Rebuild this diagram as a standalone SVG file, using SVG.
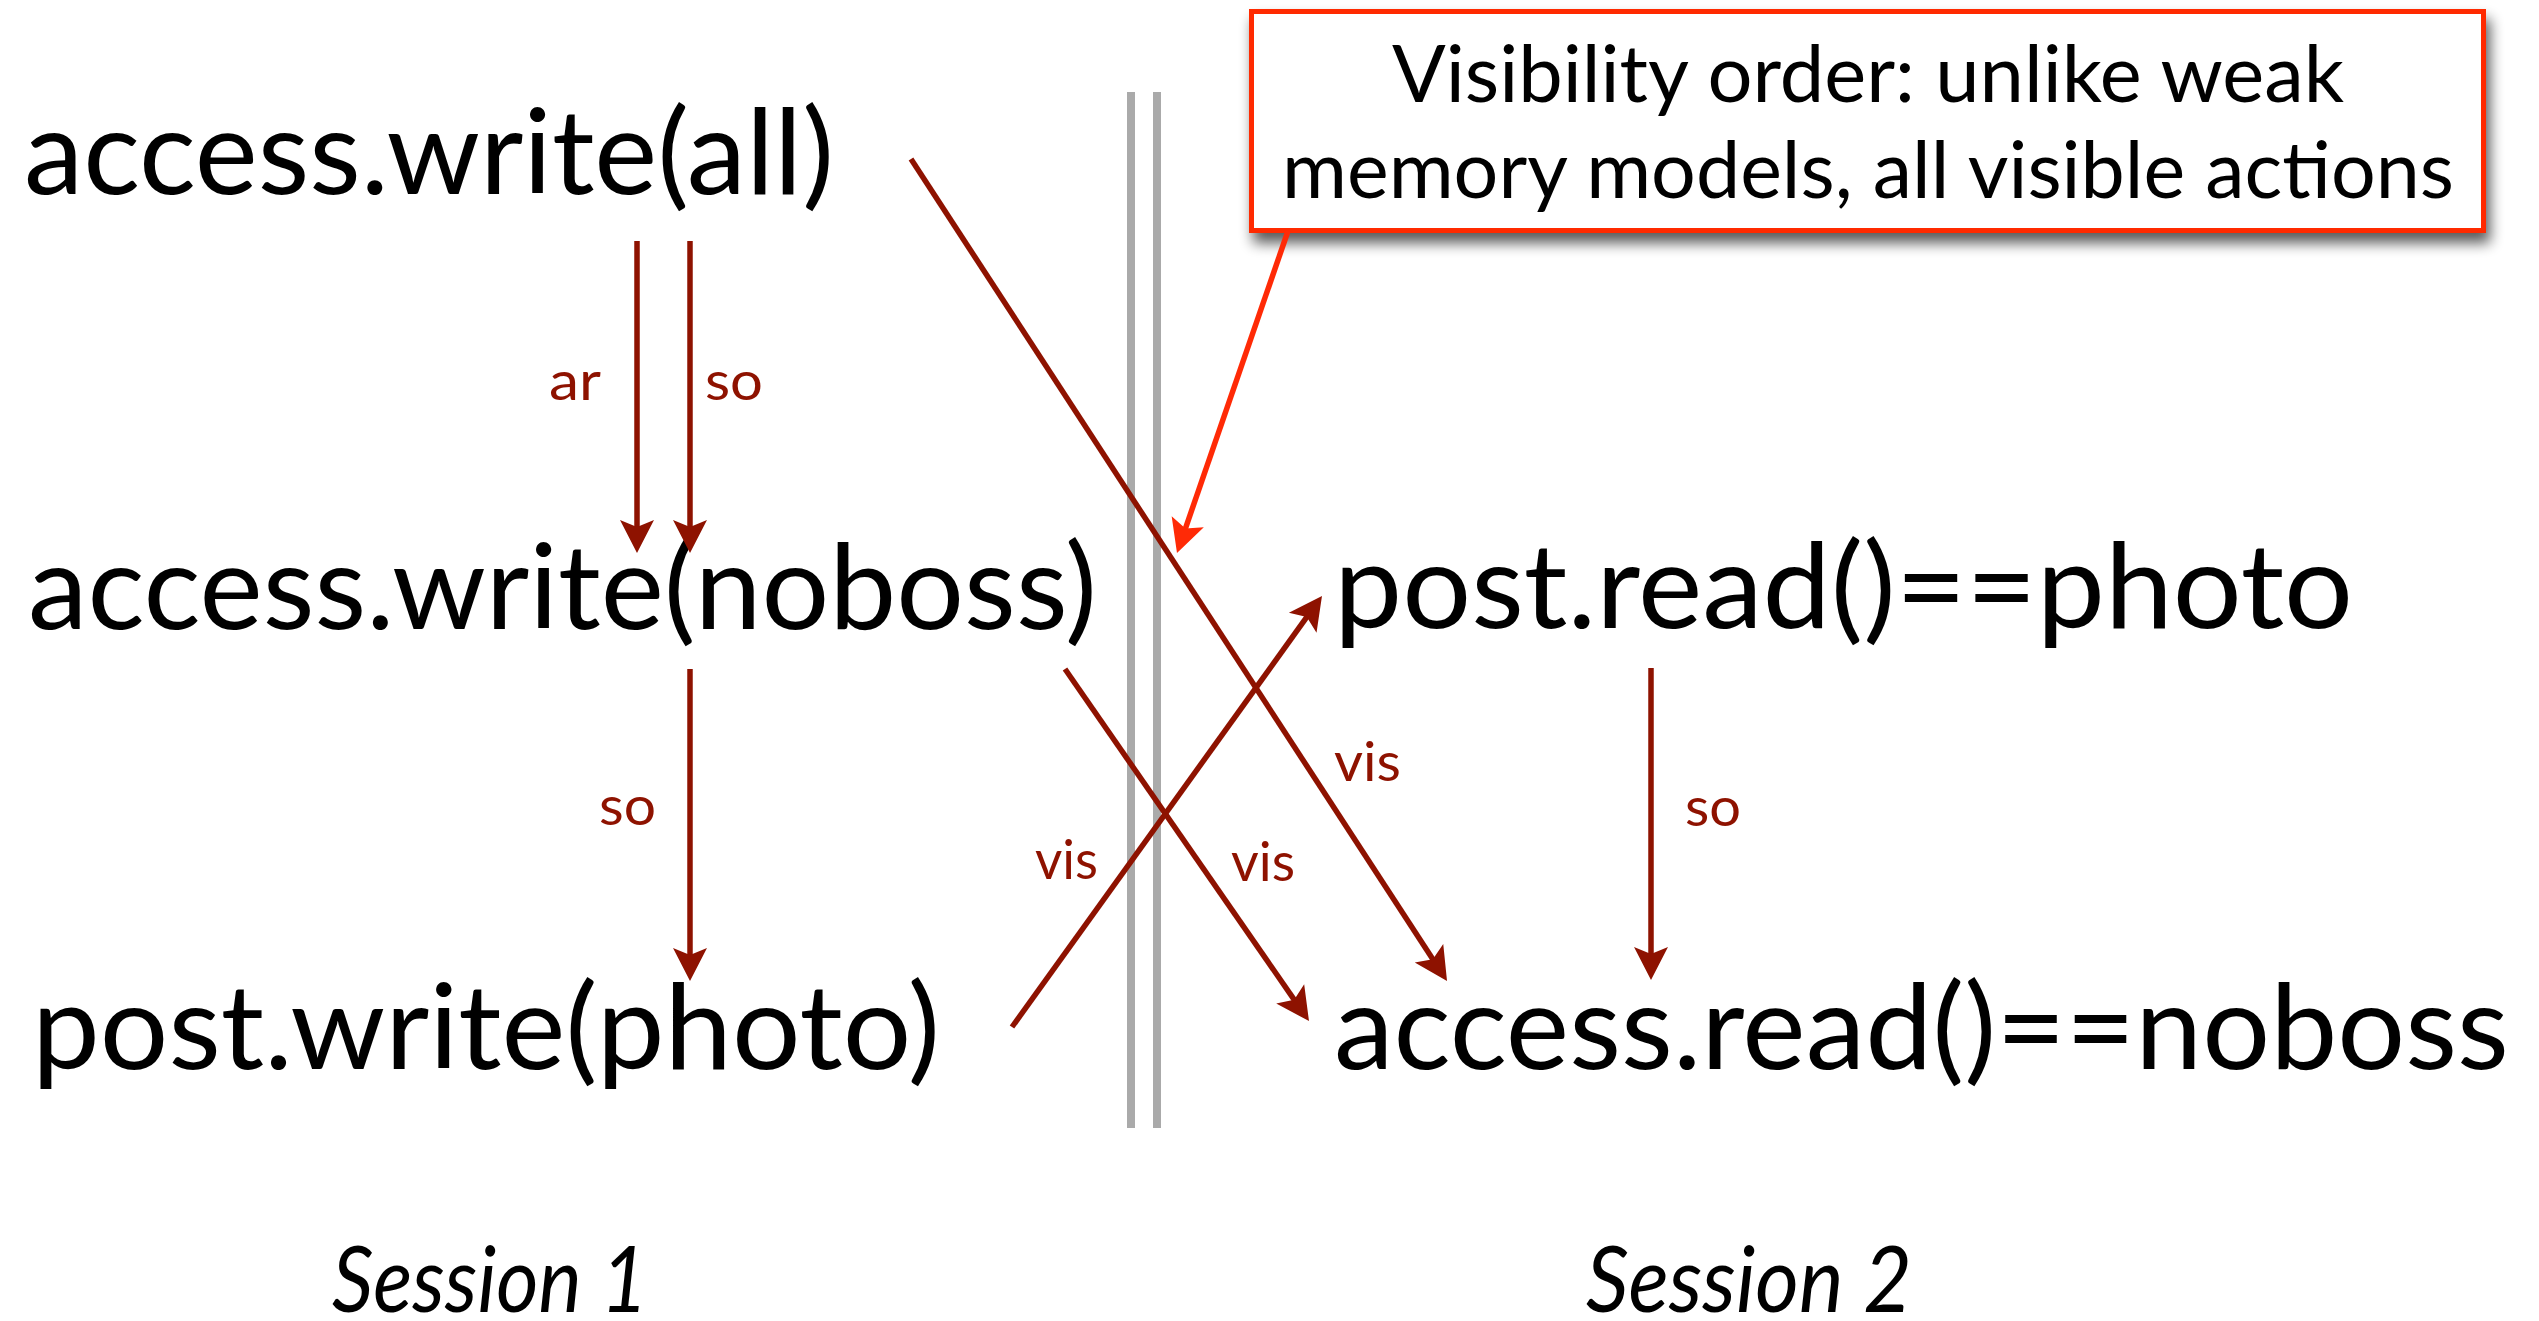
<svg xmlns="http://www.w3.org/2000/svg" width="2539" height="1321" viewBox="0 0 2539 1321">
  <style>
    .big { font-family: Lato, "Open Sans", "Liberation Sans", sans-serif; font-size: 118px; fill: #000; }
    .note { font-family: Lato, "Open Sans", "Liberation Sans", sans-serif; font-size: 80px; fill: #000; }
    .lbl { font-family: Lato, "Open Sans", "Liberation Sans", sans-serif; font-size: 54px; fill: #8e1200; }
    .sess { font-family: Lato, "Open Sans", "Liberation Sans", sans-serif; font-size: 92px; font-style: italic; fill: #000; }
    .rel { stroke: #8e1200; stroke-width: 5.5; fill: none; marker-end: url(#ah); }
    .call { stroke: #ff2a06; stroke-width: 5.5; fill: none; marker-end: url(#ahRed); }
    .sep { stroke: #aaaaaa; stroke-width: 8; }
  </style>
  <defs>
    <marker id="ah" viewBox="-14 -18 36 36" refX="0" refY="0" markerWidth="36" markerHeight="36" markerUnits="userSpaceOnUse" orient="auto">
      <path d="M20,0 L-13,-17 L-6,0 L-13,17 Z" fill="#8e1200"/>
    </marker>
    <marker id="ahRed" viewBox="-14 -18 36 36" refX="0" refY="0" markerWidth="36" markerHeight="36" markerUnits="userSpaceOnUse" orient="auto">
      <path d="M20,0 L-13,-17 L-6,0 L-13,17 Z" fill="#ff2a06"/>
    </marker>
    <filter id="shadow" x="-5%" y="-20%" width="115%" height="150%">
      <feGaussianBlur in="SourceAlpha" stdDeviation="7"/>
      <feOffset dx="4" dy="10" result="b"/>
      <feComponentTransfer><feFuncA type="linear" slope="0.65"/></feComponentTransfer>
      <feMerge><feMergeNode/><feMergeNode in="SourceGraphic"/></feMerge>
    </filter>
  </defs>

  <rect width="2539" height="1321" fill="#fff"/>

  <!-- session separator -->
  <g id="separator">
    <line class="sep" x1="1131" y1="92" x2="1131" y2="1128"/>
    <line class="sep" x1="1157" y1="92" x2="1157" y2="1128"/>
  </g>

  <!-- Session 1 events -->
  <g id="s1-write-all">
    <text class="big" x="24" y="194" textLength="810" lengthAdjust="spacingAndGlyphs">access.write(all)</text>
  </g>
  <g id="s1-write-noboss">
    <text class="big" x="28" y="629" textLength="1069" lengthAdjust="spacingAndGlyphs">access.write(noboss)</text>
  </g>
  <g id="s1-write-photo">
    <text class="big" x="32" y="1069" textLength="908" lengthAdjust="spacingAndGlyphs">post.write(photo)</text>
  </g>

  <!-- Session 2 events -->
  <g id="s2-read-photo">
    <text class="big" x="1334" y="628" textLength="1019" lengthAdjust="spacingAndGlyphs">post.read()==photo</text>
  </g>
  <g id="s2-read-noboss">
    <text class="big" x="1334" y="1069" textLength="1175" lengthAdjust="spacingAndGlyphs">access.read()==noboss</text>
  </g>

  <!-- session captions -->
  <g id="caption-s1">
    <text class="sess" x="332" y="1312" textLength="316" lengthAdjust="spacingAndGlyphs">Session 1</text>
  </g>
  <g id="caption-s2">
    <text class="sess" x="1586" y="1312" textLength="326" lengthAdjust="spacingAndGlyphs">Session 2</text>
  </g>

  <!-- callout -->
  <g id="callout">
    <rect x="1251.5" y="11.5" width="1232" height="219" fill="#fff" stroke="#ff2a06" stroke-width="5" filter="url(#shadow)"/>
    <text class="note" x="1392" y="102" textLength="952" lengthAdjust="spacingAndGlyphs">Visibility order: unlike weak</text>
    <text class="note" x="1282" y="198" textLength="1172" lengthAdjust="spacingAndGlyphs">memory models, all visible actions</text>
  </g>

  <!-- relations -->
  <g id="connectors">
    <line class="rel" x1="637" y1="241" x2="637" y2="533"/>
    <line class="rel" x1="690" y1="241" x2="690" y2="533"/>
    <line class="rel" x1="690" y1="669" x2="690" y2="961"/>
    <line class="rel" x1="911" y1="159" x2="1436.1" y2="964.2"/>
    <line class="rel" x1="1065" y1="669" x2="1297.6" y2="1004.6"/>
    <line class="rel" x1="1012" y1="1027" x2="1310.3" y2="612.2"/>
    <line class="rel" x1="1651" y1="668" x2="1651" y2="960"/>
    <line class="call" x1="1288" y1="231" x2="1183.5" y2="534.1"/>

    <text class="lbl" x="549" y="400" textLength="52" lengthAdjust="spacingAndGlyphs">ar</text>
    <text class="lbl" x="705" y="400" textLength="58" lengthAdjust="spacingAndGlyphs">so</text>
    <text class="lbl" x="599" y="825" textLength="57" lengthAdjust="spacingAndGlyphs">so</text>
    <text class="lbl" x="1334" y="781" textLength="67" lengthAdjust="spacingAndGlyphs">vis</text>
    <text class="lbl" x="1231" y="881" textLength="64" lengthAdjust="spacingAndGlyphs">vis</text>
    <text class="lbl" x="1035" y="879" textLength="63" lengthAdjust="spacingAndGlyphs">vis</text>
    <text class="lbl" x="1685" y="826" textLength="56" lengthAdjust="spacingAndGlyphs">so</text>
  </g>
</svg>
